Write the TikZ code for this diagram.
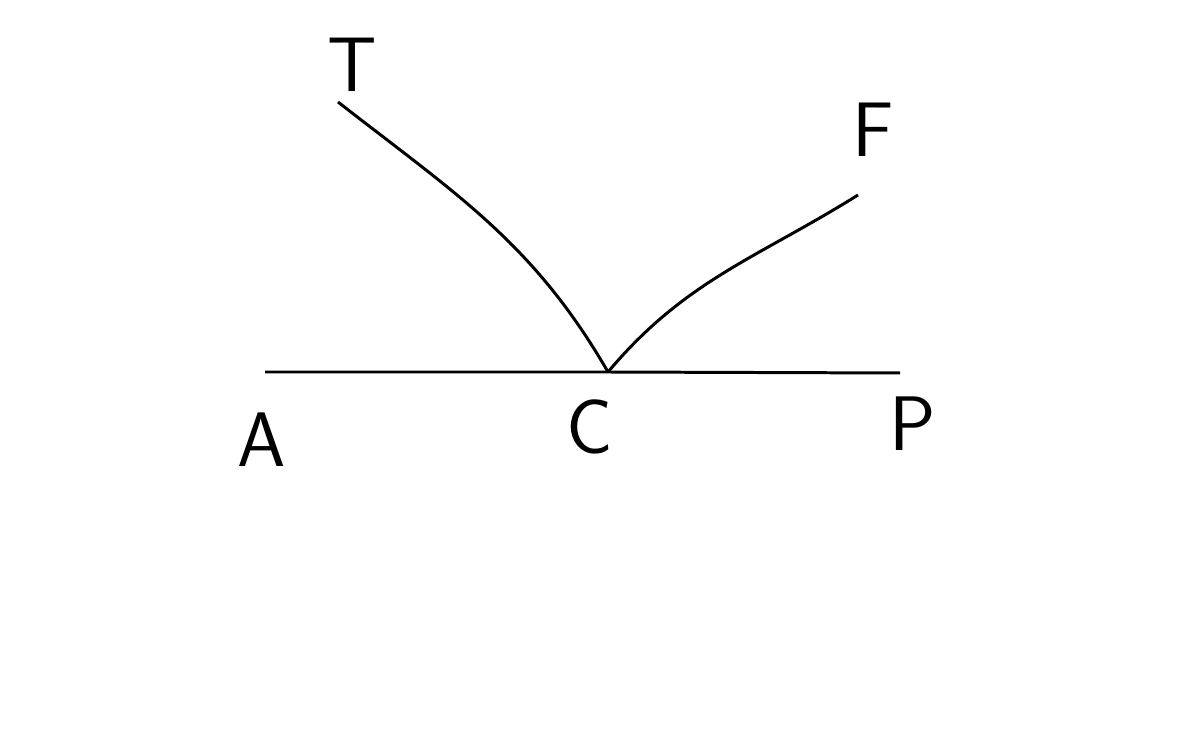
\documentclass[tikz,border=0pt]{standalone}
\begin{document}
\begin{tikzpicture}[x=0.02cm, y=0.02cm]
\useasboundingbox (0,0) rectangle (1200,747);
\coordinate (A) at (265,375);
\coordinate (C) at (608,375);
\coordinate (P) at (900,374);
\coordinate (T) at (338,645);
\coordinate (F) at (858,552);
\node[font=\fontsize{44}{48}\selectfont\sffamily] (lT) at (352,682) {T};
\node[font=\fontsize{44}{48}\selectfont\sffamily] (lF) at (873,617) {F};
\node[font=\fontsize{44}{48}\selectfont\sffamily] (lA) at (262,307) {A};
\node[font=\fontsize{44}{48}\selectfont\sffamily] (lC) at (590,320) {C};
\node[font=\fontsize{44}{48}\selectfont\sffamily] (lP) at (913,323) {P};
\draw[line width=1.7pt] (A) -- (C) -- (P);
\draw[line width=1.7pt] (T) to[out=-38, in=120] (C);
\draw[line width=1.7pt] (C) to[out=50, in=-148] (F);
\end{tikzpicture}
\end{document}
